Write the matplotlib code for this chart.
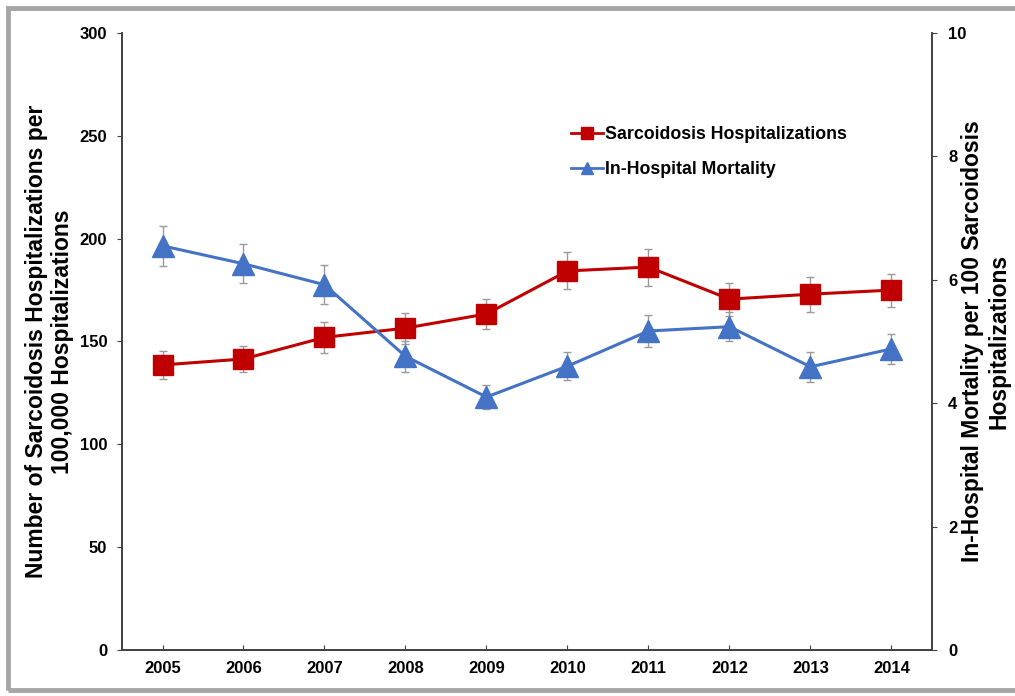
import matplotlib
matplotlib.use("Agg")
import matplotlib.pyplot as plt
from matplotlib.patches import Rectangle
from matplotlib.lines import Line2D

plt.rcParams['font.family'] = ['Liberation Sans', 'DejaVu Sans']
plt.rcParams['font.weight'] = 'bold'

years = ["2005", "2006", "2007", "2008", "2009", "2010", "2011", "2012", "2013", "2014"]
hosp = [138.6, 141.5, 152.0, 156.5, 163.4, 184.3, 186.2, 170.6, 173.0, 175.0]
hosp_err = [7.0, 6.5, 7.5, 7.5, 7.5, 9.0, 9.0, 8.0, 8.5, 8.0]
mort = [6.55, 6.26, 5.92, 4.76, 4.10, 4.60, 5.17, 5.24, 4.59, 4.88]
mort_err = [0.32, 0.32, 0.32, 0.25, 0.20, 0.23, 0.26, 0.23, 0.24, 0.24]

red = "#C00000"
blue = "#4472C4"
errc = "#9a9a9a"

fig = plt.figure(figsize=(10.15, 6.96), dpi=100)
ax = fig.add_axes([0.1202, 0.0661, 0.798, 0.8865])
ax2 = ax.twinx()

x = list(range(len(years)))

ax.errorbar(x, hosp, yerr=hosp_err, color=red, lw=2.2, marker='s', ms=15,
            mec=red, mfc=red, ecolor=errc, elinewidth=1, capsize=3, capthick=1, zorder=3)
ax2.errorbar(x, mort, yerr=mort_err, color=blue, lw=2.2, marker='^', ms=16,
             mec=blue, mfc=blue, ecolor=errc, elinewidth=1, capsize=3, capthick=1, zorder=3)

ax.set_xlim(-0.5, 9.5)
ax.set_ylim(0, 300)
ax2.set_ylim(0, 10)
ax.set_xticks(x)
ax.set_xticklabels(years)
ax.set_yticks(range(0, 301, 50))
ax2.set_yticks(range(0, 11, 2))

for a in (ax, ax2):
    a.spines['top'].set_visible(False)
    for s in a.spines.values():
        s.set_color("#404040")
        s.set_linewidth(1.2)
ax.tick_params(axis='x', direction='in', length=3.6, labelsize=12, pad=8, color="#404040")
ax.tick_params(axis='y', direction='out', length=3.6, labelsize=12, pad=7, color="#404040")
ax2.tick_params(axis='y', direction='out', length=3.6, labelsize=12, pad=8, color="#404040")

ax.set_ylabel("Number of Sarcoidosis Hospitalizations per\n100,000 Hospitalizations",
              fontsize=16.5, fontweight='bold', labelpad=4, linespacing=1.2)
ax2.set_ylabel("In-Hospital Mortality per 100 Sarcoidosis\nHospitalizations",
               fontsize=16.5, fontweight='bold', labelpad=-4, linespacing=1.2)

handles = [Line2D([], [], color=red, lw=2, marker='s', ms=8),
           Line2D([], [], color=blue, lw=2, marker='^', ms=9)]
ax.legend(handles, ["Sarcoidosis Hospitalizations", "In-Hospital Mortality"],
          loc='upper left', bbox_to_anchor=(0.535, 0.875), frameon=False,
          fontsize=12.8, handlelength=1.8, handletextpad=0.1, labelspacing=1.0)

fig.patches.append(Rectangle((8 / 1015, 6 / 696), 1.2, 1 - 14 / 696,
                             transform=fig.transFigure, fill=False,
                             edgecolor="#a6a6a6", lw=3.5))

fig.savefig("out.png", dpi=100)
